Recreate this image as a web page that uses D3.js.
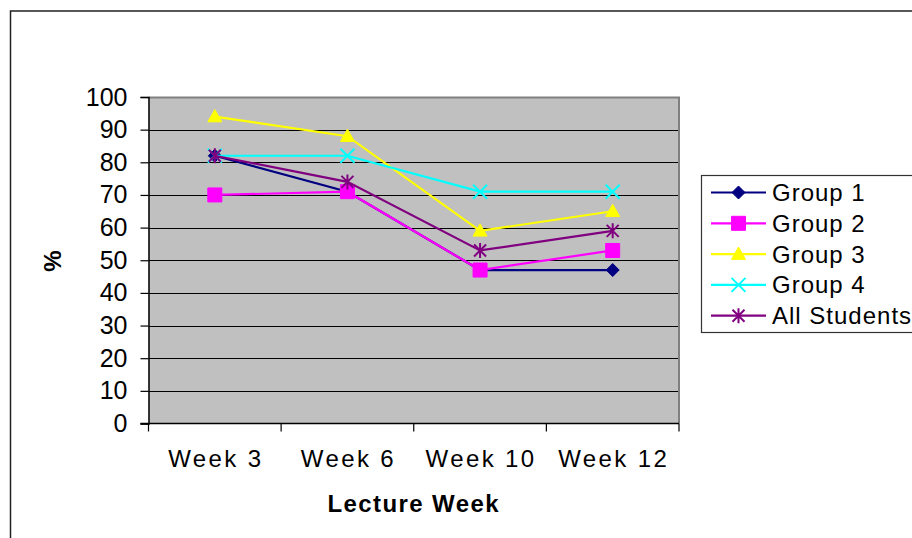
<!DOCTYPE html>
<html>
<head>
<meta charset="utf-8">
<script src="https://cdn.jsdelivr.net/npm/d3@7"></script>
<style>
  body { margin: 0; background: #fff; }
  #chart { width: 912px; height: 538px; }
  text { font-family: "Liberation Sans", Arial, sans-serif; fill: #000; }
</style>
</head>
<body>
<div id="chart"></div>
<script>
// chart data
const weeks = ["Week 3", "Week 6", "Week 10", "Week 12"];
const seriesNames = ["Group 1", "Group 2", "Group 3", "Group 4", "All Students"];
const group1 = [82, 71, 47, 47];
const group2 = [70, 71, 47, 53];
const group3 = [94, 88, 59, 65];
const group4 = [82, 82, 71, 71];
const allStudents = [82, 74, 53, 59];
const yTicks = [0, 10, 20, 30, 40, 50, 60, 70, 80, 90, 100];

const seriesValues = [group1, group2, group3, group4, allStudents];
const colors = ["#000080", "#ff00ff", "#ffff00", "#00ffff", "#800080"];
const markers = ["diamond", "square", "triangle", "x", "star"];

const width = 912, height = 538;
const plot = {left: 148.5, right: 679, top: 97, bottom: 423.5};

const svg = d3.select("#chart").append("svg")
    .attr("width", width)
    .attr("height", height);

// outer chart border (runs off the right and bottom edges)
svg.append("rect")
    .attr("x", 10.5).attr("y", 11)
    .attr("width", 1000).attr("height", 1000)
    .attr("fill", "none")
    .attr("stroke", "#222")
    .attr("stroke-width", 1.5);

/*
SCALES
*/
const xScale = d3.scaleBand()
    .domain(weeks)
    .range([plot.left, plot.right])
    .padding(0);

const yScale = d3.scaleLinear()
    .domain([0, 100])
    .range([plot.bottom, plot.top]);

/*
PLOT AREA + GRID
*/
svg.append("rect")
    .attr("x", plot.left).attr("y", plot.top)
    .attr("width", plot.right - plot.left)
    .attr("height", plot.bottom - plot.top)
    .attr("fill", "#c0c0c0");

svg.append("g")
    .selectAll("line")
    .data(yTicks.filter(d => d > 0 && d < 100))
    .enter()
    .append("line")
        .attr("x1", plot.left).attr("x2", plot.right)
        .attr("y1", d => Math.round(yScale(d)) + 0.5)
        .attr("y2", d => Math.round(yScale(d)) + 0.5)
        .attr("stroke", "#000")
        .attr("stroke-width", 1);

// grey frame on top and right
svg.append("path")
    .attr("d", `M${plot.left},${plot.top + 0.5}H${plot.right}V${plot.bottom}`)
    .attr("fill", "none")
    .attr("stroke", "#808080")
    .attr("stroke-width", 2);

/*
AXES
*/
const yAxis = svg.append("g")
    .attr("transform", `translate(${plot.left},0)`)
    .call(d3.axisLeft(yScale).tickValues(yTicks).tickSize(8).tickPadding(13));
yAxis.select(".domain").attr("stroke", "#000").attr("stroke-width", 1.5);
yAxis.selectAll(".tick line").attr("stroke", "#000").attr("stroke-width", 1.2);
yAxis.selectAll(".tick text")
    .attr("font-family", "Liberation Sans, Arial, sans-serif")
    .attr("font-size", 25)
    .attr("fill", "#000");

// x axis line + tick marks at category boundaries
const xBounds = weeks.map(w => xScale(w)).concat([xScale(weeks[weeks.length - 1]) + xScale.bandwidth()]);
svg.append("line")
    .attr("x1", plot.left - 8).attr("x2", plot.right)
    .attr("y1", plot.bottom).attr("y2", plot.bottom)
    .attr("stroke", "#000").attr("stroke-width", 1.5);
svg.append("g")
    .selectAll("line")
    .data(xBounds)
    .enter()
    .append("line")
        .attr("x1", d => d).attr("x2", d => d)
        .attr("y1", plot.bottom).attr("y2", plot.bottom + 8)
        .attr("stroke", "#000").attr("stroke-width", 1.2);

svg.append("g")
    .selectAll("text")
    .data(weeks)
    .enter()
    .append("text")
        .attr("x", d => xScale(d) + xScale.bandwidth() / 2 + 1)
        .attr("y", 467)
        .attr("text-anchor", "middle")
        .attr("font-size", 24)
        .attr("letter-spacing", 2.4)
        .text(d => d);

/*
AXIS TITLES
*/
svg.append("text")
    .attr("x", (plot.left + plot.right) / 2)
    .attr("y", 511.5)
    .attr("text-anchor", "middle")
    .attr("font-size", 24)
    .attr("font-weight", "bold")
    .attr("letter-spacing", 1.4)
    .text("Lecture Week");

svg.append("text")
    .attr("transform", "translate(61,261) rotate(-90)")
    .attr("text-anchor", "middle")
    .attr("font-size", 24)
    .attr("font-weight", "bold")
    .text("%");

/*
MARKERS
*/
function markerPath(type, s) {
    const h = s / 2;
    if (type === "diamond") return `M0,${-h}L${h},0L0,${h}L${-h},0Z`;
    if (type === "square") return `M${-h},${-h}H${h}V${h}H${-h}Z`;
    if (type === "triangle") return `M0,${-h}L${h},${h * 0.75}L${-h},${h * 0.75}Z`;
    if (type === "x") return `M${-h},${-h}L${h},${h}M${h},${-h}L${-h},${h}`;
    // star: X plus vertical line
    return `M${-h},${-h}L${h},${h}M${h},${-h}L${-h},${h}M0,${-h * 1.25}V${h * 1.25}`;
}
const markerSize = [13, 14, 14, 14, 12];
const filled = {diamond: true, square: true, triangle: true, x: false, star: false};

function drawMarker(g, type, color, s) {
    g.append("path")
        .attr("d", markerPath(type, s))
        .attr("fill", filled[type] ? color : "none")
        .attr("stroke", color)
        .attr("stroke-width", filled[type] ? 1 : 2);
}

/*
LINES
*/
const line = d3.line()
    .x((d, i) => xScale(weeks[i]) + xScale.bandwidth() / 2)
    .y(d => yScale(d));

seriesValues.forEach(function(vals, k) {
    svg.append("path")
        .attr("d", line(vals))
        .attr("fill", "none")
        .attr("stroke", colors[k])
        .attr("stroke-width", 2.2);

    vals.forEach(function(v, i) {
        const g = svg.append("g")
            .attr("transform", `translate(${xScale(weeks[i]) + xScale.bandwidth() / 2},${yScale(v)})`);
        drawMarker(g, markers[k], colors[k], markerSize[k]);
    });
});

/*
LEGEND
*/
const legend = svg.append("g");
legend.append("rect")
    .attr("x", 701.5).attr("y", 175.5)
    .attr("width", 260).attr("height", 157)
    .attr("fill", "#fff")
    .attr("stroke", "#333")
    .attr("stroke-width", 1.2);

seriesNames.forEach(function(name, k) {
    const cy = 192.5 + k * 30.8;
    legend.append("line")
        .attr("x1", 711).attr("x2", 766)
        .attr("y1", cy).attr("y2", cy)
        .attr("stroke", colors[k])
        .attr("stroke-width", 2.2);
    const g = legend.append("g").attr("transform", `translate(738.5,${cy})`);
    drawMarker(g, markers[k], colors[k], markerSize[k]);
    legend.append("text")
        .attr("x", 772)
        .attr("y", cy + 8.5)
        .attr("font-size", 24)
        .attr("letter-spacing", 1)
        .text(name);
});
</script>
</body>
</html>
